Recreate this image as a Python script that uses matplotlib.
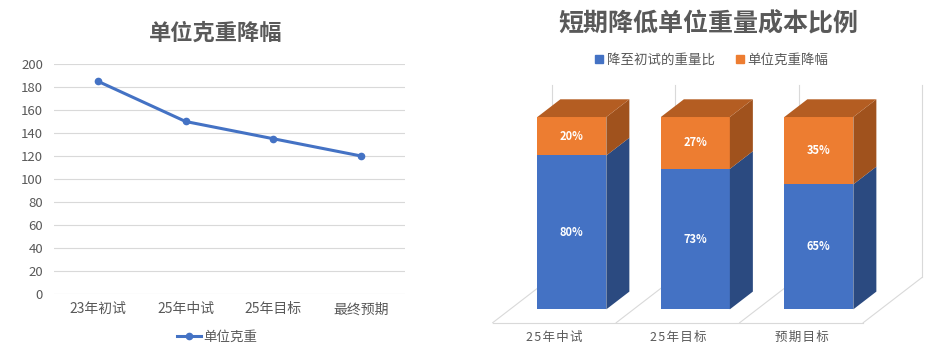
import numpy as np
import matplotlib.pyplot as plt
from matplotlib.patches import Polygon, Patch

plt.rcParams['font.family'] = ['Noto Sans CJK SC', 'DejaVu Sans']

# left chart data
line_title = '单位克重降幅'
line_name = '单位克重'
line_cats = ['23年初试', '25年中试', '25年目标', '最终预期']
line_vals = [185, 150, 135, 120]

# right chart data
bar_title = '短期降低单位重量成本比例'
bar_names = ['降至初试的重量比', '单位克重降幅']
bar_cats = ['25年中试', '25年目标', '预期目标']
bar_blue = [80, 73, 65]
bar_orange = [20, 27, 35]

BLUE = '#4472C4'
BLUE_SIDE = '#2B4A80'
ORANGE = '#ED7D31'
ORANGE_TOP = '#B45D22'
ORANGE_SIDE = '#A0521D'
GREY = '#595959'
GRID = '#D9D9D9'

W, H = 947, 354
fig = plt.figure(figsize=(W / 100, H / 100), dpi=100)


def px_axes(l, t, r, b):
    return fig.add_axes([l / W, 1 - b / H, (r - l) / W, (b - t) / H])


# ---- left: line chart ----
ax1 = px_axes(54, 64, 405, 294)
x = np.arange(len(line_cats))
ax1.plot(x, line_vals, color=BLUE, lw=2.2, marker='o', ms=4.5, label=line_name,
         zorder=3, clip_on=False)
ax1.set_xlim(-0.5, len(line_cats) - 0.5)
ax1.set_ylim(0, 200)
ax1.set_yticks(range(0, 201, 20))
ax1.set_xticks(x)
ax1.set_xticklabels(line_cats)
ax1.grid(axis='y', color=GRID, lw=0.8)
ax1.set_axisbelow(True)
for s in ax1.spines.values():
    s.set_visible(False)
ax1.tick_params(axis='y', length=0, colors=GREY, labelsize=9.5, pad=8)
ax1.tick_params(axis='x', length=0, colors=GREY, labelsize=10, pad=6)
fig.text(216 / W, 1 - 33 / H, line_title, ha='center', va='center',
         fontsize=16, fontweight='bold', color=GREY)
ax1.legend(loc='center', bbox_to_anchor=(217 / W, 1 - 337 / H),
           bbox_transform=fig.transFigure, frameon=False, fontsize=9.7,
           handlelength=1.8, handletextpad=0.1, labelcolor=GREY)

# ---- right: 3D stacked bars ----
ax2 = px_axes(485, 78, 935, 330)
cat_px = 123.5       # px per category
pct_px = 1.923       # px per percent
x0_px, y0_px = 492.7, 322.7
ax2.set_xlim((485 - x0_px) / cat_px, (935 - x0_px) / cat_px)
ax2.set_ylim((y0_px - 330) / pct_px, (y0_px - 78) / pct_px)
ax2.axis('off')

Dx, Dy = 59 / cat_px, 45.4 / pct_px   # full floor depth
f0, f1 = 0.295, 0.685                  # bar front/back depth fraction
bdx, bdy = (f1 - f0) * Dx, (f1 - f0) * Dy
bw = 69 / cat_px
n = len(bar_cats)

# floor and back wall
ax2.plot([0, n], [0, 0], color=GRID, lw=0.8, zorder=1)
for k in range(n + 1):
    ax2.plot([k, k + Dx], [0, Dy], color=GRID, lw=0.8, zorder=1)
    ax2.plot([k + Dx, k + Dx], [Dy, Dy + 100], color=GRID, lw=0.8, zorder=1)

base = f0 * Dy
for i in range(n):
    xc = i + 0.5 + f0 * Dx
    xl, xr = xc - bw / 2, xc + bw / 2
    b, o = bar_blue[i], bar_orange[i]
    ax2.bar(xc, b, width=bw, bottom=base, color=BLUE, zorder=3)
    ax2.bar(xc, o, width=bw, bottom=base + b, color=ORANGE, zorder=3)
    top = base + b + o
    # side faces
    ax2.add_patch(Polygon([(xr, base), (xr, base + b), (xr + bdx, base + b + bdy),
                           (xr + bdx, base + bdy)], color=BLUE_SIDE, zorder=3, lw=0))
    ax2.add_patch(Polygon([(xr, base + b), (xr, top), (xr + bdx, top + bdy),
                           (xr + bdx, base + b + bdy)], color=ORANGE_SIDE, zorder=3, lw=0))
    # top face
    ax2.add_patch(Polygon([(xl, top), (xr, top), (xr + bdx, top + bdy),
                           (xl + bdx, top + bdy)], color=ORANGE_TOP, zorder=3, lw=0))
    ax2.text(xc, base + b / 2, f'{b}%', ha='center', va='center', color='white',
             fontsize=8, fontweight='bold', zorder=4)
    ax2.text(xc, base + b + o / 2, f'{o}%', ha='center', va='center', color='white',
             fontsize=8, fontweight='bold', zorder=4)
    ax2.annotate('\u200a'.join(bar_cats[i]), xy=(i + 0.5, 0), xytext=(0, -10.8),
                 textcoords='offset points', ha='center', va='center',
                 fontsize=9, color=GREY)

fig.text(708 / W, 1 - 24 / H, bar_title, ha='center', va='center',
         fontsize=18, fontweight='bold', color=GREY)
handles = [Patch(color=BLUE, label=bar_names[0]), Patch(color=ORANGE, label=bar_names[1])]
fig.legend(handles=handles, loc='center', bbox_to_anchor=(712 / W, 1 - 60 / H),
           ncol=2, frameon=False, fontsize=9.7, handlelength=0.55, handleheight=0.55,
           handletextpad=0.3, columnspacing=1.6, labelcolor=GREY)

fig.savefig('out.png', dpi=100)
